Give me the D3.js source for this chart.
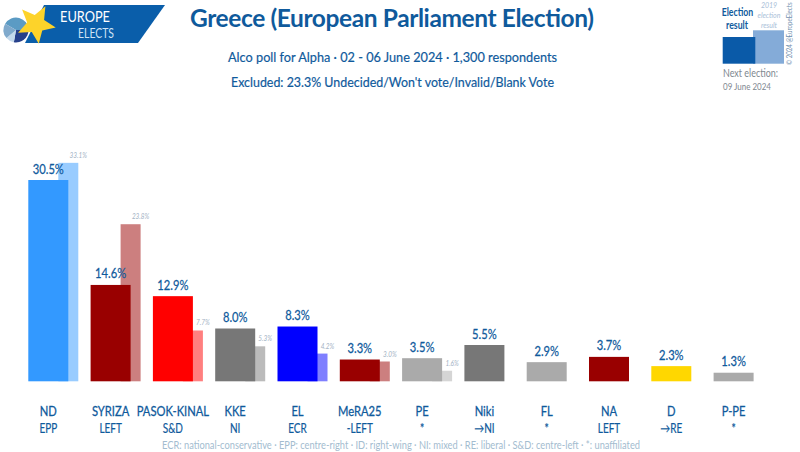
<!DOCTYPE html>
<html>
<head>
<meta charset="utf-8">
<script src="https://cdn.jsdelivr.net/npm/d3@7"></script>
<style>
  html, body { margin: 0; padding: 0; background: #fff; }
  text { font-family: "Lato", sans-serif; }
</style>
</head>
<body>
<div id="chart"></div>
<script>
const parties = ["ND", "SYRIZA", "PASOK-KINAL", "KKE", "EL", "MeRA25", "PE", "Niki", "FL", "NA", "D", "P-PE"];
const groups = ["EPP", "LEFT", "S&D", "NI", "ECR", "-LEFT", "*", "→NI", "*", "LEFT", "→RE", "*"];
const values = [30.5, 14.6, 12.9, 8.0, 8.3, 3.3, 3.5, 5.5, 2.9, 3.7, 2.3, 1.3];
const prevValues = [33.1, 23.8, 7.7, 5.3, 4.2, 3.0, 1.6, null, null, null, null, null];
const barColors = ["#3399ff", "#990000", "#ff0000", "#777777", "#0000ff", "#990000", "#aaaaaa", "#777777", "#aaaaaa", "#990000", "#ffd700", "#aaaaaa"];
const prevColors = ["#99ccff", "#cc7f7f", "#ff7f7f", "#bbbbbb", "#7f7fff", "#cc7f7f", "#d5d5d5", null, null, null, null, null];

const titleText = "Greece (European Parliament Election)";
const subtitleText = "Alco poll for Alpha · 02 - 06 June 2024 · 1,300 respondents";
const excludedText = "Excluded: 23.3% Undecided/Won't vote/Invalid/Blank Vote";
const footnoteText = "ECR: national-conservative · EPP: centre-right · ID: right-wing · NI: mixed · RE: liberal · S&D: centre-left · *: unaffiliated";

const width = 800;
const height = 452;
const blue = "#0f5a9c";
const narrow = 0.8; // Lato is wider than the font of the original

const svg = d3.select("#chart").append("svg")
    .attr("width", width)
    .attr("height", height)
    .style("display", "block");

// scales
const xScale = d3.scaleBand()
    .domain(d3.range(parties.length))
    .range([28.3, 753.6])
    .paddingInner(22.3 / 62.3);

const yScale = d3.scaleLinear()
    .domain([0, 30.5])
    .range([381.3, 180]);

const barW = xScale.bandwidth();
const prevW = barW / 2;
const rows = parties.map((d, i) => i);

// previous result bars sit behind the main ones
const withPrev = rows.filter(i => prevValues[i] !== null);

svg.selectAll(".prev-bar")
    .data(withPrev)
    .enter()
    .append("rect")
    .attr("class", "prev-bar")
    .attr("x", i => xScale(i) + barW - prevW / 2)
    .attr("y", i => yScale(prevValues[i]))
    .attr("width", prevW)
    .attr("height", i => yScale(0) - yScale(prevValues[i]))
    .attr("fill", i => prevColors[i]);

svg.selectAll(".bar")
    .data(rows)
    .enter()
    .append("rect")
    .attr("class", "bar")
    .attr("x", i => xScale(i))
    .attr("y", i => yScale(values[i]))
    .attr("width", barW)
    .attr("height", i => yScale(0) - yScale(values[i]))
    .attr("fill", i => barColors[i]);

svg.selectAll(".prev-label")
    .data(withPrev)
    .enter()
    .append("text")
    .attr("class", "prev-label")
    .attr("transform", i => `translate(${xScale(i) + barW + prevW / 2},${yScale(prevValues[i]) - 5}) scale(${narrow},1)`)
    .attr("text-anchor", "middle")
    .attr("font-size", 8)
    .attr("font-style", "italic")
    .attr("fill", "#9fb2c4")
    .text(i => prevValues[i].toFixed(1) + "%");

svg.selectAll(".value-label")
    .data(rows)
    .enter()
    .append("text")
    .attr("class", "value-label")
    .attr("transform", i => `translate(${xScale(i) + barW / 2},${yScale(values[i]) - 6.5}) scale(${narrow},1)`)
    .attr("text-anchor", "middle")
    .attr("font-size", 14)
    .attr("fill", blue)
    .attr("stroke", blue)
    .attr("stroke-width", 0.25)
    .text(i => values[i].toFixed(1) + "%");

// party and group labels under the bars
svg.selectAll(".party-label")
    .data(rows)
    .enter()
    .append("text")
    .attr("class", "party-label")
    .attr("transform", i => `translate(${xScale(i) + barW / 2},416) scale(${narrow},1)`)
    .attr("text-anchor", "middle")
    .attr("font-size", 14)
    .attr("fill", blue)
    .attr("stroke", blue)
    .attr("stroke-width", 0.3)
    .text(i => parties[i]);

svg.selectAll(".group-label")
    .data(rows)
    .enter()
    .append("text")
    .attr("class", "group-label")
    .attr("transform", i => `translate(${xScale(i) + barW / 2},432.5) scale(${narrow},1)`)
    .attr("text-anchor", "middle")
    .attr("font-size", 12.5)
    .attr("fill", blue)
    .attr("stroke", blue)
    .attr("stroke-width", 0.2)
    .text(i => groups[i]);

// headings
function line(txt, x, y, size, fill, len, adjust) {
    const t = svg.append("text")
        .attr("x", x)
        .attr("y", y)
        .attr("font-size", size)
        .attr("fill", fill)
        .text(txt);
    if (len) t.attr("textLength", len).attr("lengthAdjust", adjust || "spacingAndGlyphs");
    return t;
}

line(titleText, 190, 27, 24.5, blue, 404, "spacing").attr("font-weight", "bold");
line(subtitleText, 228, 62, 14, blue, 329).attr("stroke", blue).attr("stroke-width", 0.2);
line(excludedText, 231, 86.5, 14, blue, 323).attr("stroke", blue).attr("stroke-width", 0.2);
line(footnoteText, 162, 449, 11.5, "#a3bccf", 478);

// logo
const logo = svg.append("g");
logo.append("path")
    .attr("d", d3.line()([[44, 5], [165, 5], [138, 43], [25, 43]]))
    .attr("fill", "#0a5eaa");
const pie = d3.pie().sort(null).startAngle(-1.05).endAngle(Math.PI * 2 - 1.05)([150, 100, 40, 70]);
const arc = d3.arc().innerRadius(0).outerRadius(12.5);
const pieColors = ["#5b9bc4", "#27408b", "#c4d9ec", "#7fa9cc"];
logo.append("g")
    .attr("transform", "translate(16,30)")
    .selectAll("path")
    .data(pie)
    .enter()
    .append("path")
    .attr("d", arc)
    .attr("fill", (d, i) => pieColors[i]);
// the star in the logo is fatter than d3.symbolStar
const starPoints = d3.range(10).map(k => [k * Math.PI / 5, k % 2 ? 9 : 20]);
logo.append("path")
    .attr("transform", "translate(36,24) rotate(28)")
    .attr("d", d3.lineRadial().curve(d3.curveLinearClosed)(starPoints))
    .attr("fill", "#fdd32a");
line("EUROPE", 60, 22, 15, "#fff", 50);
line("ELECTS", 78, 38, 13, "#cfe3f5", 36);

// election result key
svg.append("rect").attr("x", 753).attr("y", 30.3).attr("width", 31).attr("height", 33.4).attr("fill", "#84abd8");
svg.append("rect").attr("x", 722.7).attr("y", 37).attr("width", 32.6).attr("height", 26.7).attr("fill", "#0a5aa8");

function keyLine(txt, x, y) {
    return svg.append("text")
        .attr("transform", `translate(${x},${y}) scale(0.76,1)`)
        .attr("text-anchor", "middle")
        .attr("font-size", 11.5)
        .attr("font-weight", "bold")
        .attr("fill", blue)
        .text(txt);
}
keyLine("Election", 737.5, 16);
keyLine("result", 737, 29);
line("2019", 769, 7.5, 7, "#a9c0d8").attr("font-style", "italic").attr("text-anchor", "middle");
line("election", 769, 17.5, 7, "#a9c0d8").attr("font-style", "italic").attr("text-anchor", "middle");
line("result", 769, 27.5, 7, "#a9c0d8").attr("font-style", "italic").attr("text-anchor", "middle");
line("Next election:", 723, 77, 11.5, "#808890", 55);
line("09 June 2024", 723, 90, 9.5, "#808890", 48);
svg.append("text")
    .attr("transform", "translate(791.5,65) rotate(-90) scale(0.82,1)")
    .attr("font-size", 7.5)
    .attr("fill", "#6f8fae")
    .text("© 2024 @EuropeElects");
</script>
</body>
</html>
